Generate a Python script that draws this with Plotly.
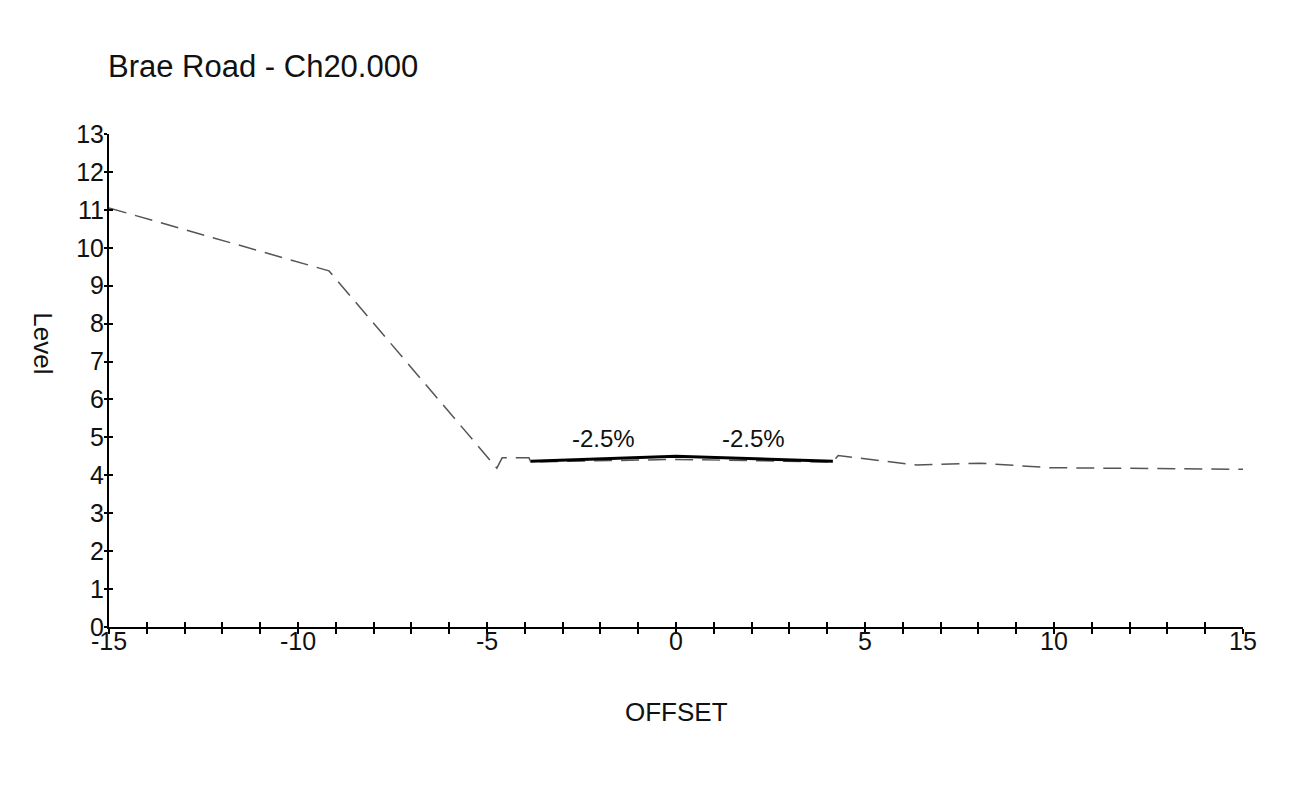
import plotly.graph_objects as go

# cross section data (offset vs level)
ground_x = [-15, -9.18, -4.74, -4.60, -3.89, -3.84, 0, 4.15, 4.29, 6.37, 8.04, 9.89, 15]
ground_y = [11.05, 9.39, 4.19, 4.46, 4.46, 4.35, 4.42, 4.35, 4.52, 4.27, 4.32, 4.20, 4.16]

road_x = [-3.84, 0, 4.15]
road_y = [4.37, 4.50, 4.37]

grade_x = [-1.93, 2.04]
grade_y = [4.98, 4.98]
grade_text = ["-2.5%", "-2.5%"]

# tick labels (hyphen minus like the original)
x_tickvals = [-15, -10, -5, 0, 5, 10, 15]
x_ticktext = ["-15", "-10", "-5", "0", "5", "10", "15"]
y_tickvals = list(range(0, 14))
y_ticktext = [str(v) for v in y_tickvals]

FONT = "Liberation Sans, Arial, sans-serif"
TXT = "#111"

fig = go.Figure()

# existing ground
fig.add_trace(go.Scatter(
    x=ground_x, y=ground_y, mode="lines",
    line=dict(color="#555555", width=1.5, dash="18px,9px"),
    hoverinfo="skip", showlegend=False
))

# road surface
fig.add_trace(go.Scatter(
    x=road_x, y=road_y, mode="lines",
    line=dict(color="black", width=3),
    hoverinfo="skip", showlegend=False
))

# crossfall labels
for gx, gy, t in zip(grade_x, grade_y, grade_text):
    fig.add_annotation(x=gx, y=gy, text=t, showarrow=False,
                       font=dict(family=FONT, size=24, color=TXT))

# axis titles
fig.add_annotation(x=0, y=-0.1724, xref="x", yref="paper", text="OFFSET",
                   xanchor="center", yanchor="middle",
                   showarrow=False, font=dict(family=FONT, size=26, color=TXT))
fig.add_annotation(x=-0.0585, y=0.576, xref="paper", yref="paper", text="Level",
                   xanchor="center", yanchor="middle",
                   textangle=90, showarrow=False,
                   font=dict(family=FONT, size=26, color=TXT))

# dummy trace so the overlay axes exist
fig.add_trace(go.Scatter(x=[None], y=[None], xaxis="x2", yaxis="y2",
                         showlegend=False, hoverinfo="skip"))

fig.update_layout(
    width=1287, height=770,
    paper_bgcolor="white", plot_bgcolor="white",
    margin=dict(l=101, r=52, t=126, b=151),
    title=dict(text="Brae Road - Ch20.000", x=100 / 1287, xanchor="left",
               y=1 - 58 / 770, yanchor="middle",
               font=dict(family=FONT, size=31, color=TXT)),
    font=dict(family=FONT, size=25, color=TXT),
    xaxis=dict(
        range=[-15, 15], tickmode="array", tickvals=x_tickvals, ticktext=x_ticktext,
        showgrid=False, zeroline=False, showline=True, linecolor="black", linewidth=2,
        ticks="outside", ticklen=5, tickwidth=1.5, tickcolor="black",
        ticklabelstandoff=-14,
        minor=dict(dtick=1, tick0=-15, ticks="outside", ticklen=5, tickwidth=1.5,
                   tickcolor="black", showgrid=False),
        tickfont=dict(family=FONT, size=25, color=TXT),
    ),
    yaxis=dict(
        range=[0, 13], tickmode="array", tickvals=y_tickvals, ticktext=y_ticktext,
        showgrid=False, zeroline=False, showline=True, linecolor="black", linewidth=2,
        ticks="outside", ticklen=3, tickwidth=1.5, tickcolor="black",
        ticklabelstandoff=-5,
        tickfont=dict(family=FONT, size=25, color=TXT),
    ),
    xaxis2=dict(
        overlaying="x", range=[-15, 15], tickmode="linear", tick0=-15, dtick=5,
        showgrid=False, zeroline=False, showticklabels=False,
        ticks="inside", ticklen=5, tickwidth=1.5, tickcolor="black",
        minor=dict(dtick=1, tick0=-15, ticks="inside", ticklen=5, tickwidth=1.5,
                   tickcolor="black", showgrid=False),
    ),
    yaxis2=dict(
        overlaying="y", range=[0, 13], tickmode="linear", tick0=0, dtick=1,
        showgrid=False, zeroline=False, showticklabels=False, side="left",
        ticks="inside", ticklen=4, tickwidth=1.5, tickcolor="black",
    ),
)

fig.write_html("out.html")
